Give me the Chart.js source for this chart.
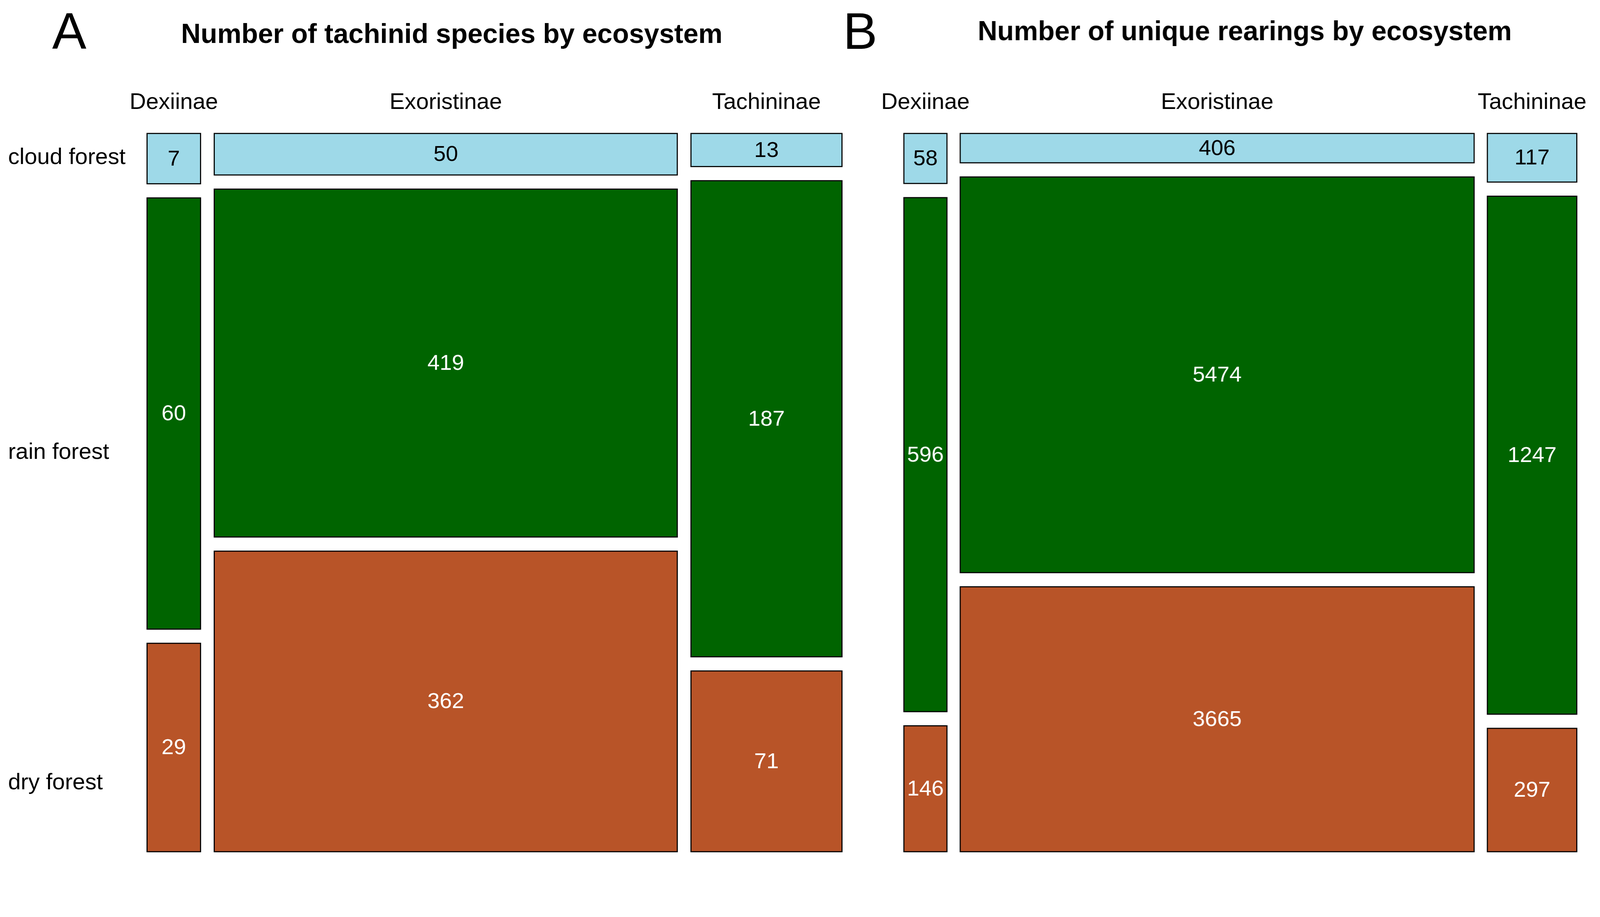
<!DOCTYPE html>
<html>
<head>
<meta charset="utf-8">
<script src="https://cdn.jsdelivr.net/npm/chart.js@4/dist/chart.umd.min.js"></script>
<style>
  html, body { margin: 0; background: #fff; overflow: hidden; }
  .wrap { position: absolute; top: 0; }
</style>
</head>
<body>
<div class="wrap" id="wrapA"><canvas id="chartA"></canvas></div>
<div class="wrap" id="wrapB"><canvas id="chartB"></canvas></div>
<script>
const subfamilies = ["Dexiinae", "Exoristinae", "Tachininae"];
const ecosystems = ["cloud forest", "rain forest", "dry forest"];
// counts per subfamily: [cloud, rain, dry]
const speciesDexiinae = [7, 60, 29];
const speciesExoristinae = [50, 419, 362];
const speciesTachininae = [13, 187, 71];
const rearingsDexiinae = [58, 596, 146];
const rearingsExoristinae = [406, 5474, 3665];
const rearingsTachininae = [117, 1247, 297];

const fills = ["#9ed9e8", "#006400", "#b85428"];
const textColors = ["#000", "#fff", "#fff"];
const GAP = 0.0205;
const FONT = "'Liberation Sans', Arial, sans-serif";
const S = window.innerWidth / 4363; // layout designed for 4363 px wide

function place(id, left, width) {
  const el = document.getElementById(id);
  el.style.left = left * S + "px";
  el.style.width = width * S + "px";
  el.style.height = 2348 * S + "px";
}
place("wrapA", 0, 2330);
place("wrapB", 2250, 2113);

function mosaicPlugin(opts) {
  return {
    id: "mosaic",
    afterDatasetsDraw(chart) {
      const { ctx, scales: { x, y } } = chart;
      const grand = opts.cols.reduce((s, c) => s + c.reduce((a, b) => a + b, 0), 0);
      ctx.save();
      ctx.textAlign = "center";
      ctx.textBaseline = "middle";
      let xv = 0;
      opts.cols.forEach((col, ci) => {
        const tot = col.reduce((a, b) => a + b, 0);
        const w = tot / grand;
        const px0 = x.getPixelForValue(xv), px1 = x.getPixelForValue(xv + w);
        let yv = 0;
        col.forEach((v, ri) => {
          const h = v / tot;
          const py0 = y.getPixelForValue(yv), py1 = y.getPixelForValue(yv + h);
          ctx.fillStyle = fills[ri];
          ctx.fillRect(px0, py0, px1 - px0, py1 - py0);
          ctx.lineWidth = 3 * S;
          ctx.strokeStyle = "#000";
          ctx.strokeRect(px0, py0, px1 - px0, py1 - py0);
          ctx.fillStyle = textColors[ri];
          ctx.font = 60 * S + "px " + FONT;
          ctx.fillText(String(v), (px0 + px1) / 2, (py0 + py1) / 2 + 2 * S);
          yv += h + GAP;
        });
        ctx.fillStyle = "#000";
        ctx.font = 62 * S + "px " + FONT;
        ctx.fillText(subfamilies[ci], (px0 + px1) / 2, 280 * S);
        xv += w + GAP;
      });
      ctx.font = "bold " + 74 * S + "px " + FONT;
      ctx.fillText(opts.title, opts.titleX * S, opts.titleY * S);
      ctx.font = 140 * S + "px " + FONT;
      ctx.fillText(opts.letter, opts.letterX * S, 95 * S);
      if (opts.rowLabels) {
        ctx.textAlign = "left";
        ctx.font = 62 * S + "px " + FONT;
        opts.rowLabels.forEach((t, i) => ctx.fillText(t, 22 * S, opts.rowLabelY[i] * S));
      }
      ctx.restore();
    }
  };
}

function makeChart(id, padding, opts) {
  const pad = {};
  for (const k in padding) pad[k] = padding[k] * S;
  return new Chart(document.getElementById(id), {
    type: "scatter",
    data: { datasets: [{ data: [] }] },
    options: {
      responsive: true,
      maintainAspectRatio: false,
      animation: false,
      layout: { padding: pad },
      scales: {
        x: { display: false, min: 0, max: 1 + 2 * GAP },
        y: { display: false, min: 0, max: 1 + 2 * GAP, reverse: true }
      },
      plugins: { legend: { display: false }, tooltip: { enabled: false } }
    },
    plugins: [mosaicPlugin(opts)]
  });
}

makeChart("chartA", { left: 401, right: 34, top: 364, bottom: 25 }, {
  cols: [speciesDexiinae, speciesExoristinae, speciesTachininae],
  title: "Number of tachinid species by ecosystem", titleX: 1232, titleY: 97,
  letter: "A", letterX: 189,
  rowLabels: ecosystems, rowLabelY: [430, 1234, 2136]
});
makeChart("chartB", { left: 215, right: 64, top: 364, bottom: 25 }, {
  cols: [rearingsDexiinae, rearingsExoristinae, rearingsTachininae],
  title: "Number of unique rearings by ecosystem", titleX: 1144, titleY: 89,
  letter: "B", letterX: 96
});
</script>
</body>
</html>
